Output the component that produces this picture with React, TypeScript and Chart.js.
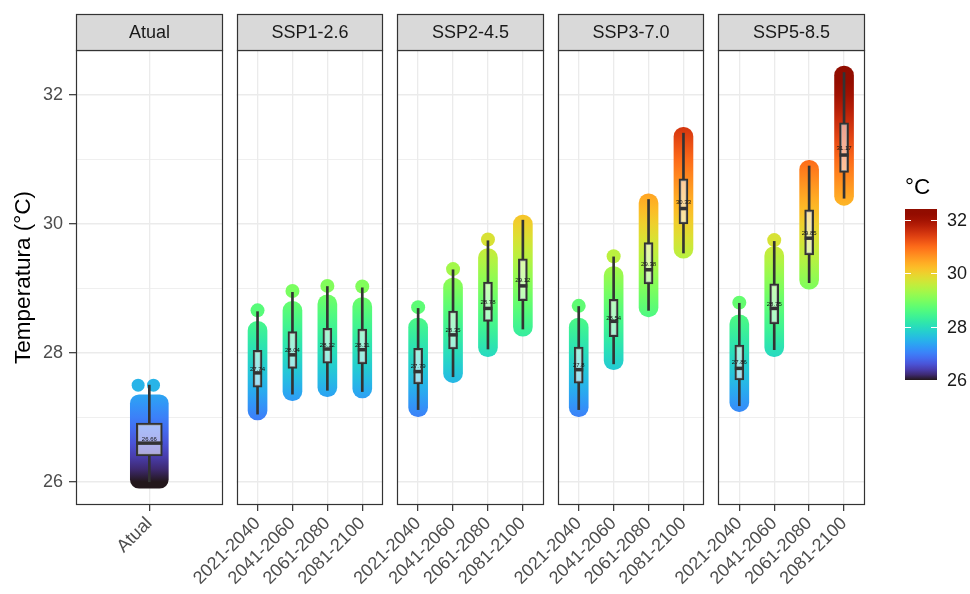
import React, { useEffect, useRef } from 'react';
import { Chart, registerables } from 'chart.js';

Chart.register(...registerables);

// ---------------- data ----------------
const scenarios = ['Atual', 'SSP1-2.6', 'SSP2-4.5', 'SSP3-7.0', 'SSP5-8.5'];
const periods = ['2021-2040', '2041-2060', '2061-2080', '2081-2100'];
const yTicks = [26, 27, 28, 29, 30, 31, 32];
const legendTicks = [26, 28, 30, 32];
const colorMin = 26.0;
const colorMax = 32.4;
const legendTitle = '°C';
const yTitle = 'Temperatura (°C)';

// Atual (current climate)
const atualCloud = [25.9, 27.35];
const atualWhisker = [26.0, 27.5];
const atualBox = [26.4, 26.91];
const atualMedian = 26.6;
const atualMean = 26.66;
const atualTopPoints = [27.5, 27.5];
const atualTopJitter = [-0.32, 0.12];

// scenario rows: SSP1-2.6, SSP2-4.5, SSP3-7.0, SSP5-8.5 ; columns: periods
const cloudLow = [
  [26.96, 27.26, 27.32, 27.3],
  [27.01, 27.54, 27.94, 28.26],
  [27.01, 27.74, 28.56, 29.47],
  [27.09, 27.94, 28.99, 30.29],
];
const cloudHigh = [
  [28.49, 28.8, 28.9, 28.86],
  [28.54, 29.16, 29.62, 30.14],
  [28.54, 29.34, 30.47, 31.5],
  [28.59, 29.65, 30.99, 32.45],
];
const whiskerLow = [
  [27.05, 27.36, 27.42, 27.4],
  [27.12, 27.63, 28.06, 28.37],
  [27.12, 27.83, 28.66, 29.55],
  [27.18, 28.05, 29.09, 30.4],
];
const whiskerHigh = [
  [28.64, 28.94, 29.03, 29.01],
  [28.69, 29.29, 29.74, 30.06],
  [28.72, 29.49, 30.38, 31.41],
  [28.77, 29.73, 30.9, 32.35],
];
const q1 = [
  [27.47, 27.76, 27.84, 27.83],
  [27.52, 28.06, 28.49, 28.81],
  [27.53, 28.25, 29.07, 30.0],
  [27.58, 28.45, 29.52, 30.8],
];
const q3 = [
  [28.04, 28.33, 28.38, 28.37],
  [28.07, 28.65, 29.1, 29.46],
  [28.09, 28.83, 29.71, 30.7],
  [28.12, 29.07, 30.22, 31.57],
];
const medians = [
  [27.69, 27.97, 28.06, 28.05],
  [27.71, 28.28, 28.69, 29.04],
  [27.74, 28.49, 29.29, 30.24],
  [27.76, 28.69, 29.78, 31.07],
];
const means = [
  [27.74, 28.04, 28.12, 28.11],
  [27.79, 28.35, 28.78, 29.12],
  [27.8, 28.54, 29.38, 30.33],
  [27.86, 28.75, 29.85, 31.17],
];
const topPoints: (number | null)[][] = [
  [28.66, 28.96, 29.04, 29.03],
  [28.71, 29.3, 29.76, null],
  [28.73, 29.5, null, null],
  [28.78, 29.75, null, null],
];

// ---------------- layout helpers ----------------
const PANEL = 4.2;
const STEP = 4.6;
const FIRST = 0.6;
const X_MAX = 5 * PANEL + 4 * (STEP - PANEL);
const CA = { left: 76, top: 50, right: 865, bottom: 505 };
const W = 970;
const H = 594;
const FONT = "'Liberation Sans', Arial, Helvetica, sans-serif";

const atualX = PANEL / 2;
const sspX = (s: number, k: number) => (s + 1) * STEP + FIRST + k;

const tickPositions: number[] = [atualX];
const tickLabels: string[] = [scenarios[0]];
for (let s = 0; s < 4; s++) for (let k = 0; k < 4; k++) { tickPositions.push(sspX(s, k)); tickLabels.push(periods[k]); }

function turbo(t: number): string {
  t = Math.min(1, Math.max(0, t));
  const r = 0.13572138 + t * (4.6153926 + t * (-42.66032258 + t * (132.13108234 + t * (-152.94239396 + t * 59.28637943))));
  const g = 0.09140261 + t * (2.19418839 + t * (4.84296658 + t * (-14.18503333 + t * (4.27729857 + t * 2.82956604))));
  const b = 0.1066733 + t * (12.64194608 + t * (-60.58204836 + t * (110.36276771 + t * (-89.90310912 + t * 27.34824973))));
  const c = (v: number) => Math.round(255 * Math.min(1, Math.max(0, v)));
  return `rgb(${c(r)},${c(g)},${c(b)})`;
}
const colorOf = (v: number) => turbo((v - colorMin) / (colorMax - colorMin));

function cloudFill(ctx: any) {
  const chart = ctx.chart;
  const ys = chart.scales && chart.scales.y;
  if (!chart.chartArea || !ys) return 'rgba(0,0,0,0)';
  const y0 = ys.getPixelForValue(colorMin);
  const y1 = ys.getPixelForValue(colorMax);
  const g = chart.ctx.createLinearGradient(0, y0, 0, y1);
  for (let i = 0; i <= 32; i++) { const t = i / 32; g.addColorStop(t, turbo(t)); }
  return g;
}

// ---------------- datasets ----------------
function buildDatasets() {
  const cloudSSP: any[] = [], boxSSP: any[] = [], whiskers: any[] = [], medSSP: any[] = [], blobSSP: any[] = [];
  for (let s = 0; s < 4; s++) for (let k = 0; k < 4; k++) {
    const x = sspX(s, k);
    cloudSSP.push({ x, y: [cloudLow[s][k], cloudHigh[s][k]] });
    boxSSP.push({ x, y: [q1[s][k], q3[s][k]] });
    whiskers.push({ x, y: [whiskerLow[s][k], q1[s][k]] });
    whiskers.push({ x, y: [q3[s][k], whiskerHigh[s][k]] });
    medSSP.push({ x, y: medians[s][k] });
    const tp = topPoints[s][k];
    if (tp !== null) blobSSP.push({ x, y: tp });
  }
  whiskers.push({ x: atualX, y: [atualWhisker[0], atualBox[0]] });
  whiskers.push({ x: atualX, y: [atualBox[1], atualWhisker[1]] });
  const blobAtual = atualTopPoints.map((v, i) => ({ x: atualX + atualTopJitter[i], y: v }));
  const pointColor = (c: any) => colorOf(c.raw ? c.raw.y : colorMin);
  const barBase = { grouped: false, borderSkipped: false };
  return [
    { ...barBase, type: 'bar', data: [{ x: atualX, y: atualCloud }], barThickness: 38, borderRadius: 9, backgroundColor: cloudFill, borderWidth: 0, order: 10 },
    { ...barBase, type: 'bar', data: cloudSSP, barThickness: 19, borderRadius: 9.5, backgroundColor: cloudFill, borderWidth: 0, order: 10 },
    { type: 'scatter', data: blobAtual, pointRadius: 6.5, pointBackgroundColor: pointColor, pointBorderWidth: 0, order: 9 },
    { type: 'scatter', data: blobSSP, pointRadius: 7, pointBackgroundColor: pointColor, pointBorderWidth: 0, order: 9 },
    { ...barBase, type: 'bar', data: whiskers, barThickness: 2, backgroundColor: '#333333', borderWidth: 0, order: 8 },
    { ...barBase, type: 'bar', data: [{ x: atualX, y: atualBox }], barThickness: 26, backgroundColor: 'rgba(255,255,255,0.55)', borderColor: '#333333', borderWidth: 2, order: 7 },
    { ...barBase, type: 'bar', data: boxSSP, barThickness: 9, backgroundColor: 'rgba(255,255,255,0.55)', borderColor: '#333333', borderWidth: 2, order: 7 },
    { type: 'scatter', data: [{ x: atualX, y: atualMedian }], pointStyle: 'line', pointRadius: 13, pointBorderColor: '#333333', pointBorderWidth: 3.5, order: 6 },
    { type: 'scatter', data: medSSP, pointStyle: 'line', pointRadius: 4.5, pointBorderColor: '#333333', pointBorderWidth: 3.5, order: 6 },
  ];
}

// ---------------- plugin: facets, strips, labels, colour bar ----------------
const facetPlugin = {
  id: 'facets',
  beforeDatasetsDraw(chart: any) {
    const { ctx, chartArea: ca, scales } = chart;
    const x = scales.x;
    ctx.save();
    ctx.fillStyle = '#ffffff';
    for (let p = 0; p < 4; p++) {
      const l = x.getPixelForValue(p * STEP + PANEL);
      const r = x.getPixelForValue((p + 1) * STEP);
      ctx.fillRect(l, ca.top - 1, r - l, ca.bottom - ca.top + 2);
    }
    ctx.restore();
  },
  afterDatasetsDraw(chart: any) {
    const { ctx, chartArea: ca, scales } = chart;
    const x = scales.x, y = scales.y;
    ctx.save();
    // mean labels
    ctx.font = `6px ${FONT}`;
    ctx.fillStyle = '#111111';
    ctx.textAlign = 'center';
    ctx.textBaseline = 'middle';
    ctx.fillText(String(atualMean), x.getPixelForValue(atualX), y.getPixelForValue(atualMean));
    for (let s = 0; s < 4; s++) for (let k = 0; k < 4; k++) {
      ctx.fillText(String(means[s][k]), x.getPixelForValue(sspX(s, k)), y.getPixelForValue(means[s][k]));
    }
    // panel borders
    ctx.strokeStyle = '#333333';
    ctx.lineWidth = 1.2;
    for (let p = 0; p < 5; p++) {
      const l = Math.round(x.getPixelForValue(p * STEP));
      const r = Math.round(x.getPixelForValue(p * STEP + PANEL));
      ctx.strokeRect(l + 0.5, ca.top + 0.5, r - l - 1, ca.bottom - ca.top - 1);
    }
    ctx.restore();
  },
  afterDraw(chart: any) {
    const { ctx, chartArea: ca, scales } = chart;
    const x = scales.x;
    ctx.save();
    // strips
    for (let p = 0; p < 5; p++) {
      const l = Math.round(x.getPixelForValue(p * STEP));
      const r = Math.round(x.getPixelForValue(p * STEP + PANEL));
      const top = 14;
      ctx.fillStyle = '#d9d9d9';
      ctx.fillRect(l, top, r - l, ca.top - top);
      ctx.strokeStyle = '#333333';
      ctx.lineWidth = 1.2;
      ctx.strokeRect(l + 0.5, top + 0.5, r - l - 1, ca.top - top);
      ctx.fillStyle = '#1a1a1a';
      ctx.font = `18px ${FONT}`;
      ctx.textAlign = 'center';
      ctx.textBaseline = 'middle';
      ctx.fillText(scenarios[p], (l + r) / 2, (top + ca.top) / 2 + 1);
    }
    // colour bar
    const bx = 905, bw = 32, bTop = 209, bBot = 380;
    const vy = (v: number) => bBot - ((v - colorMin) / (colorMax - colorMin)) * (bBot - bTop);
    const g = ctx.createLinearGradient(0, bBot, 0, bTop);
    for (let i = 0; i <= 32; i++) { const t = i / 32; g.addColorStop(t, turbo(t)); }
    ctx.fillStyle = g;
    ctx.fillRect(bx, bTop, bw, bBot - bTop);
    ctx.strokeStyle = '#ffffff';
    ctx.lineWidth = 1;
    ctx.font = `18px ${FONT}`;
    ctx.fillStyle = '#1a1a1a';
    ctx.textAlign = 'left';
    ctx.textBaseline = 'middle';
    for (const v of legendTicks) {
      const py = Math.round(vy(v)) + 0.5;
      ctx.beginPath();
      ctx.moveTo(bx, py); ctx.lineTo(bx + 6, py);
      ctx.moveTo(bx + bw - 6, py); ctx.lineTo(bx + bw, py);
      ctx.stroke();
      ctx.fillText(String(v), bx + bw + 10, vy(v) + 1);
    }
    ctx.font = `22.5px ${FONT}`;
    ctx.fillStyle = '#000000';
    ctx.fillText(legendTitle, bx, 188);
    ctx.restore();
  },
};

export default function App() {
  const ref = useRef<HTMLCanvasElement | null>(null);
  useEffect(() => {
    document.body.style.margin = '0';
    const canvas = ref.current;
    if (!canvas) return;
    const chart = new Chart(canvas, {
      type: 'bar',
      data: { datasets: buildDatasets() as any },
      plugins: [facetPlugin],
      options: {
        animation: false,
        responsive: false,
        devicePixelRatio: 1,
        layout: { padding: { left: 0, top: CA.top, right: W - CA.right, bottom: 0 } },
        plugins: { legend: { display: false }, tooltip: { enabled: false } },
        scales: {
          x: {
            type: 'linear',
            min: 0,
            max: X_MAX,
            offset: false,
            afterBuildTicks: (s: any) => { s.ticks = tickPositions.map((v) => ({ value: v })); },
            afterFit: (s: any) => { s.height = H - CA.bottom; },
            border: { display: false },
            grid: { display: true, offset: false, color: '#ebebeb', lineWidth: 1.3, tickColor: '#333333', tickLength: 6, tickWidth: 1.2, drawTicks: true },
            ticks: {
              autoSkip: false,
              minRotation: 45,
              maxRotation: 45,
              padding: 2,
              color: '#4d4d4d',
              font: { size: 18, family: FONT },
              callback: (v: any) => {
                const i = tickPositions.findIndex((p) => Math.abs(p - Number(v)) < 1e-6);
                return i >= 0 ? tickLabels[i] : '';
              },
            },
          },
          y: {
            type: 'linear',
            min: 25.64,
            max: 32.7,
            afterBuildTicks: (s: any) => { s.ticks = yTicks.map((v) => ({ value: v })); },
            afterFit: (s: any) => { s.width = CA.left; },
            border: { display: false },
            grid: {
              color: '#ebebeb',
              lineWidth: (c: any) => (c.tick && c.tick.value % 2 === 0 ? 1.4 : 0.8),
              tickColor: (c: any) => (c.tick && c.tick.value % 2 === 0 ? '#333333' : 'rgba(0,0,0,0)'),
              tickLength: 7,
              tickWidth: 1.2,
            },
            ticks: {
              padding: 6,
              color: '#4d4d4d',
              font: { size: 18, family: FONT },
              callback: (v: any) => (Number(v) % 2 === 0 ? String(v) : ''),
            },
            title: { display: true, text: yTitle, color: '#000000', font: { size: 22.5, family: FONT }, padding: { top: 10, bottom: 0 } },
          },
        },
      } as any,
    });
    return () => chart.destroy();
  }, []);
  return (
    <div style={{ position: 'fixed', left: 0, top: 0, width: W, height: H, background: '#ffffff' }}>
      <canvas ref={ref} width={W} height={H} style={{ width: W, height: H, display: 'block' }} />
    </div>
  );
}
